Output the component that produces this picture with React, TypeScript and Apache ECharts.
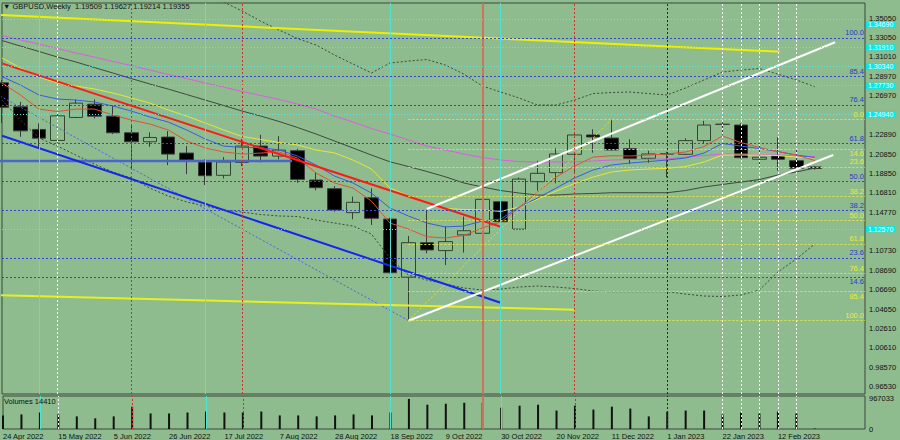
import React, { useEffect, useRef } from 'react';
import * as echarts from 'echarts';

// ---- data ----
const weekTickIndex = [0, 3, 6, 9, 12, 15, 18, 21, 24, 27, 30, 33, 36, 39, 42];
const weekTickLabels = ['24 Apr 2022', '15 May 2022', '5 Jun 2022', '26 Jun 2022', '17 Jul 2022', '7 Aug 2022', '28 Aug 2022', '18 Sep 2022', '9 Oct 2022', '30 Oct 2022', '20 Nov 2022', '11 Dec 2022', '1 Jan 2023', '22 Jan 2023', '12 Feb 2023'];

const opens = [1.2830, 1.2579, 1.2343, 1.2228, 1.2468, 1.2607, 1.2482, 1.2308, 1.2214, 1.2263, 1.2096, 1.2002, 1.1863, 1.1998, 1.2169, 1.2064, 1.2120, 1.1814, 1.1723, 1.1473, 1.1629, 1.1406, 1.0798, 1.1159, 1.1076, 1.1240, 1.1257, 1.1587, 1.1300, 1.1797, 1.1891, 1.2083, 1.2285, 1.2253, 1.2142, 1.2041, 1.2085, 1.2083, 1.2226, 1.2395, 1.2389, 1.2031, 1.2065, 1.2016, 1.19509];
const closes = [1.2575, 1.2328, 1.2252, 1.2485, 1.2618, 1.2482, 1.2308, 1.2214, 1.2259, 1.2085, 1.2023, 1.1859, 1.2002, 1.2169, 1.2064, 1.2127, 1.1821, 1.1734, 1.1501, 1.1581, 1.1414, 1.0845, 1.1159, 1.1083, 1.1170, 1.1284, 1.1612, 1.1378, 1.1824, 1.1884, 1.2086, 1.2285, 1.2264, 1.2128, 1.2041, 1.2086, 1.2090, 1.2226, 1.2389, 1.2398, 1.2048, 1.2052, 1.2031, 1.1937, 1.19355];
const lows = [1.2411, 1.2266, 1.2155, 1.2203, 1.2462, 1.2458, 1.2294, 1.1934, 1.2161, 1.1970, 1.1876, 1.1762, 1.1830, 1.1960, 1.1998, 1.2030, 1.1786, 1.1706, 1.1483, 1.1403, 1.1344, 1.0838, 1.0345, 1.1048, 1.0926, 1.1055, 1.1250, 1.1135, 1.1295, 1.1703, 1.1780, 1.1900, 1.2100, 1.2125, 1.1982, 1.1995, 1.1842, 1.2075, 1.2200, 1.2285, 1.2040, 1.1954, 1.1912, 1.1920, 1.19214];
const highs = [1.2860, 1.2631, 1.2406, 1.2527, 1.2656, 1.2656, 1.2594, 1.2398, 1.2312, 1.2325, 1.2169, 1.2030, 1.2054, 1.2242, 1.2287, 1.2273, 1.2140, 1.1897, 1.1751, 1.1640, 1.1727, 1.1420, 1.1229, 1.1490, 1.1330, 1.1431, 1.1645, 1.1615, 1.1840, 1.2016, 1.2146, 1.2310, 1.2345, 1.2446, 1.2240, 1.2121, 1.2110, 1.2250, 1.2432, 1.2442, 1.2407, 1.2188, 1.2261, 1.2136, 1.19627];
const volumes = [436700, 468000, 530000, 468000, 405000, 343000, 405000, 717000, 499000, 499000, 530000, 561000, 530000, 530000, 561000, 437000, 437000, 405000, 437000, 468000, 437000, 530000, 967033, 780000, 811000, 842000, 842000, 686000, 749000, 780000, 593000, 749000, 624000, 717000, 655000, 405000, 561000, 593000, 593000, 468000, 530000, 499000, 561000, 499000, 14410];

const maRed = [1.2828, 1.2703, 1.2556, 1.2530, 1.2556, 1.2556, 1.2494, 1.2441, 1.2400, 1.2337, 1.2222, 1.2149, 1.2107, 1.2086, 1.2096, 1.2107, 1.2044, 1.1887, 1.1783, 1.1730, 1.1594, 1.1364, 1.1302, 1.1221, 1.1208, 1.1234, 1.1312, 1.1375, 1.1526, 1.1688, 1.1845, 1.1960, 1.2054, 1.2068, 1.2065, 1.2075, 1.2086, 1.2107, 1.2164, 1.2274, 1.2206, 1.2154, 1.2112, 1.2075, 1.2018];
const maBlue = [1.2894, 1.2807, 1.2703, 1.2661, 1.2650, 1.2630, 1.2588, 1.2535, 1.2473, 1.2420, 1.2337, 1.2243, 1.2169, 1.2154, 1.2154, 1.2128, 1.2065, 1.1971, 1.1856, 1.1783, 1.1678, 1.1521, 1.1438, 1.1364, 1.1323, 1.1333, 1.1385, 1.1406, 1.1532, 1.1626, 1.1730, 1.1835, 1.1919, 1.1971, 1.1992, 1.2007, 1.2023, 1.2044, 1.2096, 1.2196, 1.2169, 1.2143, 1.2112, 1.2075, 1.2049];
const maYellow = [1.3090, 1.2985, 1.2891, 1.2828, 1.2797, 1.2766, 1.2724, 1.2672, 1.2619, 1.2546, 1.2483, 1.2410, 1.2337, 1.2269, 1.2238, 1.2206, 1.2180, 1.2128, 1.2097, 1.2023, 1.1929, 1.1731, 1.1647, 1.1574, 1.1516, 1.1506, 1.1501, 1.1485, 1.1532, 1.1615, 1.1699, 1.1777, 1.1845, 1.1898, 1.1919, 1.1929, 1.1936, 1.1955, 1.2002, 1.2075, 1.2075, 1.2075, 1.2070, 1.2054, 1.2044];
const maMagenta = [1.3325, 1.3278, 1.3236, 1.3189, 1.3142, 1.3100, 1.3053, 1.3011, 1.2964, 1.2917, 1.2875, 1.2828, 1.2786, 1.2739, 1.2698, 1.2656, 1.2609, 1.2556, 1.2483, 1.2420, 1.2352, 1.2295, 1.2232, 1.2169, 1.2128, 1.2086, 1.2049, 1.2023, 1.2007, 1.2002, 1.2002, 1.2005, 1.2013, 1.2023, 1.2028, 1.2030, 1.2034, 1.2054, 1.2070, 1.2086, 1.2086, 1.2081, 1.2075, 1.2065, 1.2058];
const maGray = [1.3272, 1.3215, 1.3158, 1.3100, 1.3048, 1.2990, 1.2933, 1.2875, 1.2818, 1.2765, 1.2708, 1.2650, 1.2593, 1.2535, 1.2483, 1.2426, 1.2363, 1.2295, 1.2222, 1.2149, 1.2075, 1.2005, 1.1955, 1.1903, 1.1848, 1.1783, 1.1741, 1.1704, 1.1678, 1.1657, 1.1657, 1.1668, 1.1673, 1.1681, 1.1681, 1.1681, 1.1681, 1.1704, 1.1741, 1.1767, 1.1793, 1.1819, 1.1866, 1.1898, 1.1939];
const bandUpper = [1.4600, 1.4500, 1.4400, 1.4300, 1.4200, 1.4100, 1.4000, 1.3950, 1.3900, 1.3850, 1.3780, 1.3715, 1.3675, 1.3581, 1.3476, 1.3382, 1.3293, 1.3226, 1.3121, 1.3027, 1.2933, 1.3037, 1.3058, 1.3074, 1.3016, 1.2922, 1.2797, 1.2734, 1.2671, 1.2598, 1.2598, 1.2650, 1.2718, 1.2729, 1.2734, 1.2718, 1.2703, 1.2776, 1.2860, 1.2943, 1.2964, 1.2980, 1.2922, 1.2860, 1.2790];
const bandLower = [1.2650, 1.2441, 1.2253, 1.2169, 1.2075, 1.1981, 1.1898, 1.1835, 1.1730, 1.1647, 1.1584, 1.1542, 1.1500, 1.1479, 1.1453, 1.1438, 1.1432, 1.1396, 1.1364, 1.1333, 1.1249, 1.0998, 1.0821, 1.0768, 1.0727, 1.0685, 1.0664, 1.0674, 1.0695, 1.0706, 1.0695, 1.0679, 1.0653, 1.0646, 1.0646, 1.0646, 1.0646, 1.0622, 1.0601, 1.0596, 1.0612, 1.0664, 1.0852, 1.0988, 1.1145];

// trend lines: [weekIndex, price] pairs
const trendRed = [[0, 1.3034], [27, 1.1326]];
const trendBlue = [[0, 1.2277], [27, 1.0531]];
const levelBlue = [[-0.2, 1.2013], [15.7, 1.2013]];
const trendYellowTop = [[-0.2, 1.3540], [42.1, 1.3156]];
const trendYellowLow = [[-0.2, 1.0609], [31, 1.0458]];
const channelUpper = [[23, 1.1511], [45.1, 1.3254]];
const channelLower = [[22, 1.0343], [45, 1.2076]];
const fibBlueDiag = [[-5.8, 1.3297], [22, 1.0345]];
const fibYellowDiag = [[22, 1.0345], [33, 1.2446]];

// fibonacci anchors & levels
const fibBlueLow = 1.0345;
const fibBlueHigh = 1.3297;
const fibBlueLevels = [100.0, 85.4, 76.4, 61.8, 50.0, 38.2, 23.6, 14.6];
const fibYellowTop = 1.2446;
const fibYellowBottom = 1.0345;
const fibYellowStart = 22;
const fibYellowLevels = [0.0, 14.6, 23.6, 38.2, 50.0, 61.8, 76.4, 85.4, 100.0];

const cyanLevels = [1.3469, 1.3191, 1.3034, 1.2773, 1.2494, 1.1257];
const lastPrice = 1.19355;

// vertical markers (week index)
const cyanMarks = [2, 11, 21, 27];
const redDotMarks = [7, 13, 31];
const salmonMarks = [26];
const whiteDotMarks = [3, 39, 40, 41, 42, 43];
const darkDotMarks = [36];

const priceTicks = [1.3505, 1.3305, 1.3101, 1.2897, 1.2697, 1.2289, 1.2085, 1.1885, 1.1681, 1.1477, 1.1073, 1.0869, 1.0669, 1.0465, 1.0261, 1.0061, 0.9857, 0.9653];
const volumeTicks = [0, 967033];

const xMax = 46.72;
const priceMin = 0.95766;
const priceMax = 1.36649;

export default function App() {
  const ref = useRef<HTMLDivElement>(null);
  useEffect(() => {
    if (!ref.current) return;
    const chart = echarts.init(ref.current, undefined, { renderer: 'svg', width: 900, height: 440 });
    const font = 'Liberation Sans';
    const txt = { fontFamily: font, fontSize: 7.5, color: '#111' };
    const candleData = opens.map((o, i) => [i, o, closes[i], lows[i], highs[i]]);
    const toLine = (arr: number[]) => arr.map((v, i) => [i, v]);
    const line = (data: any, color: string, width: number, type: any = 'solid', z = 4) => ({
      type: 'line', data, xAxisIndex: 0, yAxisIndex: 0, symbol: 'none', showSymbol: false,
      lineStyle: { color, width, type }, z, silent: true, clip: true,
    });
    const vMarks = (arr: number[], color: string, type: any, width = 1) =>
      arr.map((x) => ({ xAxis: x, lineStyle: { color, type, width } }));
    const verticals = [
      ...vMarks(cyanMarks, '#4fe3d3', 'solid'),
      ...vMarks(redDotMarks, '#e02a2a', [2, 2]),
      ...vMarks(salmonMarks, '#d4705a', 'solid', 2),
      ...vMarks(whiteDotMarks, '#ffffff', [2, 2]),
      ...vMarks(darkDotMarks, '#2a2a2a', [2, 2]),
    ];
    // labels placed under their line where two fib sets crowd each other
    const blueBelow = [14.6];
    const yellowBelow = [14.6, 85.4];
    const fibLabel = (text: string, color: string, below: boolean) => ({
      show: true, position: below ? 'insideEndBottom' : 'insideEndTop', distance: 1, formatter: text, color, fontFamily: font, fontSize: 7.5,
    });
    const blueFib = fibBlueLevels.map((p) => ({
      yAxis: fibBlueLow + (p / 100) * (fibBlueHigh - fibBlueLow),
      lineStyle: { color: '#3446d8', type: [2, 2], width: 1 },
      label: fibLabel(p.toFixed(1), '#2a3acc', blueBelow.includes(p)),
    }));
    const yellowFib = fibYellowLevels.map((p) => {
      const v = fibYellowTop - (p / 100) * (fibYellowTop - fibYellowBottom);
      return [
        { coord: [fibYellowStart, v], lineStyle: { color: '#e4e43c', type: [2, 2], width: 1 }, label: fibLabel(p.toFixed(1), '#eaea3a', yellowBelow.includes(p)) },
        { coord: [xMax, v] },
      ];
    });
    // the topmost cyan tag is nudged down so the 1.35050 tick stays readable
    const cyanLabelShift = [6, 0, 0, 0, 0, 0];
    const cyan = cyanLevels.map((v, k) => ({
      yAxis: v,
      lineStyle: { color: '#5ee6e6', type: [1, 2], width: 1 },
      label: { show: true, position: 'end', distance: 1, offset: [0, cyanLabelShift[k]], formatter: v.toFixed(5), backgroundColor: '#00ecec', color: '#f4ffff', padding: [0, 2, 0, 2], height: 6, lineHeight: 6, fontFamily: font, fontSize: 7 },
    }));
    const current = {
      yAxis: lastPrice,
      lineStyle: { opacity: 0 },
      label: { show: true, position: 'end', distance: 1, formatter: lastPrice.toFixed(5), backgroundColor: '#000', color: '#fff', padding: [1, 2, 0, 2], fontFamily: font, fontSize: 7.5 },
    };

    chart.setOption({
      animation: false,
      backgroundColor: '#8fbc8f',
      title: [
        { text: '▼ GBPUSD,Weekly  1.19509 1.19627 1.19214 1.19355', left: 3, top: 2, padding: 0, textStyle: { ...txt, fontWeight: 'normal' } },
        { text: 'Volumes 14410', left: 4, top: 397, padding: 0, textStyle: { ...txt, fontWeight: 'normal' } },
      ],
      grid: [
        { left: 2, top: 3, width: 863, height: 391, show: true, backgroundColor: 'transparent', borderColor: '#3c463c', borderWidth: 1 },
        { left: 2, top: 396, width: 863, height: 33, show: true, backgroundColor: 'transparent', borderColor: '#3c463c', borderWidth: 1 },
      ],
      xAxis: [
        { type: 'value', gridIndex: 0, min: 0, max: xMax, show: false },
        {
          type: 'value', gridIndex: 1, min: 0, max: xMax,
          axisLine: { show: false }, axisTick: { show: false }, splitLine: { show: false },
          axisLabel: {
            customValues: weekTickIndex, align: 'left', margin: 3, ...txt,
            formatter: (v: number) => { const k = weekTickIndex.indexOf(Math.round(v)); return k >= 0 ? weekTickLabels[k] : ''; },
          },
        },
      ],
      yAxis: [
        {
          type: 'value', gridIndex: 0, position: 'right', min: priceMin, max: priceMax,
          axisLine: { show: false }, axisTick: { show: false }, splitLine: { show: false },
          axisLabel: { customValues: priceTicks, margin: 4, ...txt, formatter: (v: number) => v.toFixed(5) },
        },
        {
          type: 'value', gridIndex: 1, position: 'right', min: 0, max: 1060000,
          axisLine: { show: false }, axisTick: { show: false }, splitLine: { show: false },
          axisLabel: { customValues: volumeTicks, margin: 4, ...txt, formatter: (v: number) => String(Math.round(v)) },
        },
      ],
      series: [
        {
          type: 'candlestick', xAxisIndex: 0, yAxisIndex: 0, data: candleData, barWidth: 14, z: 2, clip: true, silent: true,
          itemStyle: { color: '#8fbc8f', color0: '#000000', borderColor: '#334433', borderColor0: '#3a3a3a', borderWidth: 1 },
          markLine: {
            symbol: ['none', 'none'], silent: true, label: { show: false },
            data: [...verticals, ...blueFib, ...yellowFib, ...cyan, current],
          },
        },
        line(toLine(bandUpper), '#3b4a3b', 1, [2, 2], 3),
        line(toLine(bandLower), '#3b4a3b', 1, [2, 2], 3),
        line(toLine(maGray), '#3d4a3d', 1, 'solid', 3),
        line(toLine(maMagenta), '#dc5ce0', 1, 'solid', 3),
        line(toLine(maYellow), '#e6e63a', 1, 'solid', 3),
        line(toLine(maBlue), '#3a5ae6', 1, 'solid', 3),
        line(toLine(maRed), '#e0503a', 1, 'solid', 3),
        line(fibBlueDiag, '#4a64e0', 1, [2, 2], 4),
        line(fibYellowDiag, '#d8e040', 1, [2, 2], 4),
        line(trendYellowTop, '#eef000', 2, 'solid', 4),
        line(trendYellowLow, '#e6f020', 2, 'solid', 4),
        line(levelBlue, '#4a66cc', 2.5, 'solid', 4),
        line(trendBlue, '#1426f0', 2, 'solid', 4),
        line(trendRed, '#ff1a1a', 2, 'solid', 4),
        line(channelUpper, '#ffffff', 2, 'solid', 4),
        line(channelLower, '#ffffff', 2, 'solid', 4),
        {
          type: 'bar', xAxisIndex: 1, yAxisIndex: 1, data: volumes.map((v, i) => [i, v]), barWidth: 2, z: 2, silent: true,
          itemStyle: { color: '#111111' },
          markLine: { symbol: ['none', 'none'], silent: true, label: { show: false }, data: verticals },
        },
      ],
    });
    return () => chart.dispose();
  }, []);
  return <div ref={ref} style={{ position: 'fixed', left: 0, top: 0, width: 900, height: 440 }} />;
}
